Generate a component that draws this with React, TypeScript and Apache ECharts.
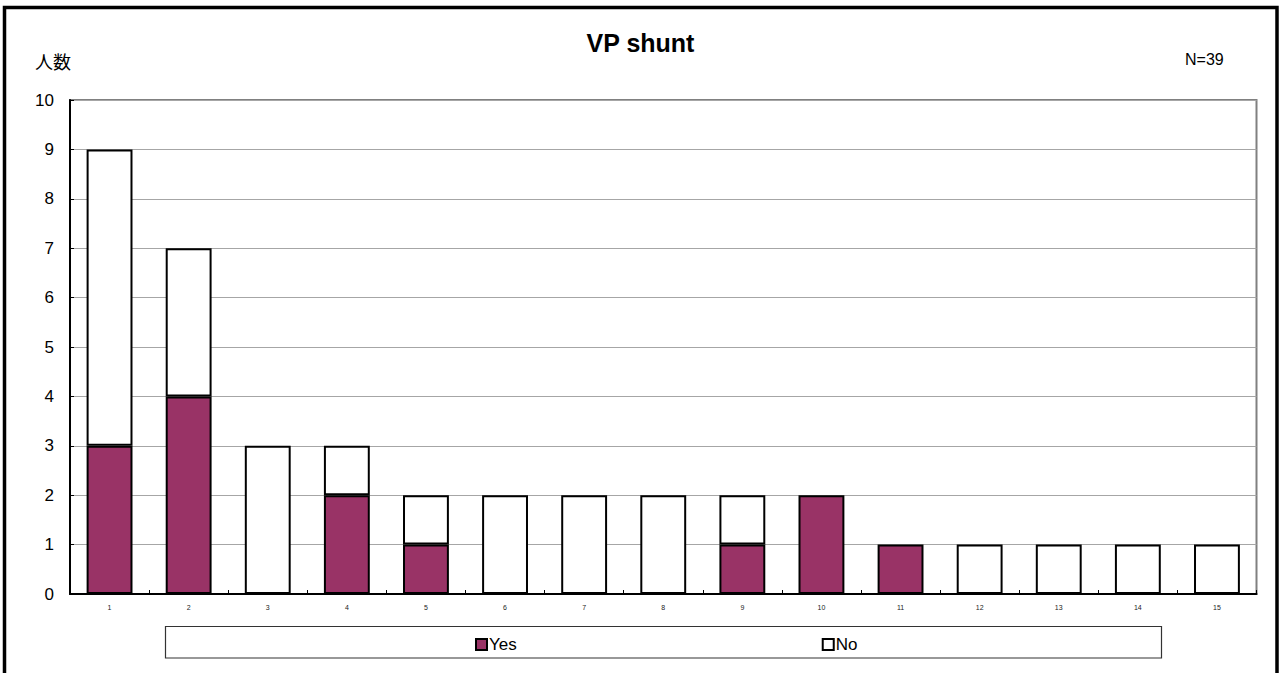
import React, { useEffect, useRef } from "react";
import * as echarts from "echarts";

const categories = ["1", "2", "3", "4", "5", "6", "7", "8", "9", "10", "11", "12", "13", "14", "15"];
const yesValues = [3, 4, 0, 2, 1, 0, 0, 0, 1, 2, 1, 0, 0, 0, 0];
const noValues = [6, 3, 3, 1, 1, 2, 2, 2, 1, 0, 0, 1, 1, 1, 1];
const seriesNames = ["Yes", "No"];
const titleText = "VP shunt";
const yAxisName = "人数";
const nText = "N=39";

const FONT = "'Liberation Sans', Arial, sans-serif";

export default function App() {
  const ref = useRef<HTMLDivElement>(null);
  useEffect(() => {
    const chart = echarts.init(ref.current!, undefined, { renderer: "svg" });
    const toBar = (v: number) => (v === 0 ? "-" : v);
    chart.setOption({
      animation: false,
      backgroundColor: "#ffffff",
      title: {
        text: titleText,
        left: "center",
        top: 25,
        textStyle: { fontSize: 25, fontWeight: "bold", color: "#000", fontFamily: FONT },
      },
      graphic: [
        {
          type: "rect",
          shape: { x: 4.5, y: 7.5, width: 1272.5, height: 700 },
          style: { fill: "none", stroke: "#000", lineWidth: 3.5 },
          silent: true,
          z: 100,
        },
        {
          type: "rect",
          shape: { x: 165.5, y: 626.5, width: 996, height: 31.5 },
          style: { fill: "#fff", stroke: "#333", lineWidth: 1.2 },
          silent: true,
          z: -1,
        },
        {
          type: "text",
          left: 35,
          top: 52,
          style: { text: yAxisName, fontSize: 18, fill: "#000", fontFamily: "'Noto Sans CJK JP', sans-serif" },
        },
        {
          type: "text",
          left: 1185,
          top: 51,
          style: { text: nText, fontSize: 16, fill: "#000", fontFamily: FONT },
        },
      ],
      legend: {
        data: seriesNames,
        left: 470,
        top: 631,
        itemGap: 305,
        itemWidth: 11,
        itemHeight: 11,
        icon: "rect",
        itemStyle: { borderColor: "#000", borderWidth: 2 },
        textStyle: { fontSize: 17, color: "#000", fontFamily: FONT, padding: [0, 0, 0, -3] },
      },
      grid: {
        left: 70,
        top: 100,
        right: 24.5,
        bottom: 79,
        show: true,
        borderColor: "#808080",
        borderWidth: 2,
        containLabel: false,
      },
      xAxis: {
        type: "category",
        data: categories,
        boundaryGap: true,
        axisLine: { lineStyle: { color: "#000", width: 2 } },
        axisTick: { show: true, inside: true, length: 4, interval: 0, lineStyle: { color: "#000" } },
        axisLabel: { fontSize: 7, color: "#222", margin: 10, interval: 0, fontFamily: FONT },
        splitLine: { show: false },
      },
      yAxis: {
        type: "value",
        min: 0,
        max: 10,
        interval: 1,
        axisLine: { show: true, lineStyle: { color: "#000", width: 2 } },
        axisTick: { show: true, inside: true, length: 4, lineStyle: { color: "#000" } },
        axisLabel: { fontSize: 17, color: "#000", margin: 16, fontFamily: FONT },
        splitLine: { show: true, lineStyle: { color: "#a6a6a6", width: 1 } },
      },
      series: [
        {
          name: seriesNames[0],
          type: "bar",
          stack: "total",
          barWidth: "58%",
          data: yesValues.map(toBar),
          itemStyle: { color: "#993366", borderColor: "#000", borderWidth: 2 },
        },
        {
          name: seriesNames[1],
          type: "bar",
          stack: "total",
          barWidth: "58%",
          data: noValues.map(toBar),
          itemStyle: { color: "#ffffff", borderColor: "#000", borderWidth: 2 },
        },
      ],
    });
    return () => chart.dispose();
  }, []);
  return (
    <div style={{ position: "absolute", left: 0, top: 0, width: 1281, height: 673 }}>
      <div ref={ref} style={{ width: 1281, height: 673 }} />
    </div>
  );
}
